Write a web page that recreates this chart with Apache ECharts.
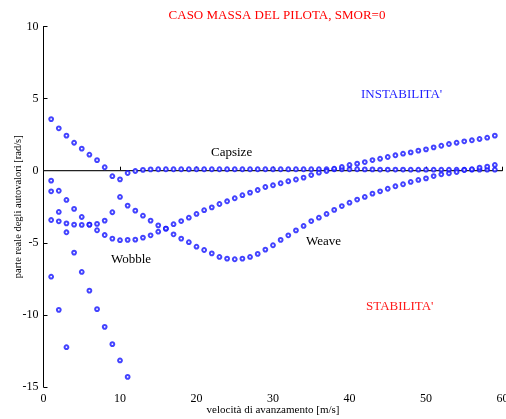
<!DOCTYPE html>
<html><head><meta charset="utf-8">
<script src="https://cdn.jsdelivr.net/npm/echarts@6/dist/echarts.min.js"></script>
<style>html,body{margin:0;padding:0;background:#fff}#c{width:506px;height:419px}</style>
</head><body><div id="c"></div>
<script>
// speed values (m/s)
const speeds = Array.from({length:59},(_,i)=>i+1);
// Capsize branch (starts as real weave root at low speed)
const capsize = [3.58,2.94,2.43,1.94,1.53,1.11,0.73,0.24,-0.38,-0.6,-0.16,-0.02,0.06,0.09,0.1,0.1,0.1,0.1,0.1,0.1,
0.1,0.1,0.1,0.1,0.1,0.1,0.1,0.1,0.1,0.1,0.1,0.1,0.1,0.1,0.1,0.1,0.1,0.1,0.1,0.1,
0.1,0.09,0.09,0.08,0.08,0.08,0.08,0.07,0.07,0.07,0.07,0.07,0.07,0.07,0.07,0.07,0.07,0.07,0.07];
// Wobble branch
const wobble = [-0.69,-1.39,-2.03,-2.65,-3.21,-3.74,-4.13,-4.46,-4.71,-4.82,-4.8,-4.78,-4.64,-4.48,-4.23,-4.02,-3.71,-3.49,-3.26,-3.0,
-2.74,-2.54,-2.31,-2.12,-1.91,-1.7,-1.52,-1.34,-1.13,-1.01,-0.87,-0.73,-0.61,-0.48,-0.3,-0.14,-0.02,0.14,0.26,0.4,
0.49,0.6,0.74,0.83,0.95,1.07,1.18,1.27,1.39,1.48,1.62,1.73,1.85,1.94,2.04,2.11,2.2,2.29,2.43];
// Weave branch
const weave = [-3.42,-3.51,-3.65,-3.74,-3.76,-3.74,-3.69,-3.46,-2.88,-1.82,-2.42,-2.77,-3.12,-3.46,-3.79,-4.02,-4.41,-4.71,-4.96,-5.27,
-5.5,-5.73,-5.98,-6.1,-6.14,-6.1,-5.98,-5.77,-5.47,-5.17,-4.8,-4.48,-4.14,-3.83,-3.49,-3.26,-3.0,-2.72,-2.45,-2.22,
-2.0,-1.82,-1.59,-1.43,-1.25,-1.08,-0.94,-0.78,-0.64,-0.53,-0.37,-0.25,-0.18,-0.09,0.05,0.1,0.21,0.28,0.4];
// Fast stable real roots
const realA = [-1.43,-2.86,-4.27,-5.68,-7.02,-8.32,-9.6,-10.83,-12.03,-13.16,-14.3];
const realB = [-7.35,-9.65,-12.24];
const xTicks = [0,10,20,30,40,50,60];
const yTicks = [-15,-10,-5,0,5,10];
const zeroLine = [[0,0],[60,0]];

const pts = arr => arr.map((v,i)=>[speeds[i],v]);
const serif = '"Liberation Serif","DejaVu Serif",serif';
const blue = '#1414ff';
const sc = data => ({type:'scatter',data:pts(data),symbol:'emptyCircle',symbolSize:3.8,
  itemStyle:{color:blue,borderColor:blue,borderWidth:1.1},silent:true,z:3});

const chart = echarts.init(document.getElementById('c'));
chart.setOption({
  animation:false,
  backgroundColor:'#fff',
  title:{text:'CASO MASSA DEL PILOTA, SMOR=0',left:272,top:4,textAlign:'center',
    textStyle:{color:'#ff0000',fontFamily:serif,fontSize:13,fontWeight:'normal'}},
  grid:{left:43.5,right:3.5,top:26.5,bottom:32,containLabel:false,outerBoundsMode:'none'},
  xAxis:{type:'value',min:xTicks[0],max:xTicks[xTicks.length-1],interval:10,
    name:'velocità di avanzamento [m/s]',nameLocation:'middle',nameGap:18,nameMoveOverlap:false,
    nameTextStyle:{fontFamily:serif,fontSize:11,color:'#000'},
    axisLine:{lineStyle:{color:'#000',width:1}},
    axisTick:{inside:true,length:4,lineStyle:{color:'#000'}},
    axisLabel:{fontFamily:serif,fontSize:12,color:'#000',margin:6,
      formatter:v=>xTicks.includes(v)?String(v):''},
    splitLine:{show:false}},
  yAxis:{type:'value',min:yTicks[0],max:yTicks[yTicks.length-1],interval:5,
    name:'parte reale degli autovalori [rad/s]',nameLocation:'middle',nameGap:20,nameMoveOverlap:false,
    nameTextStyle:{fontFamily:serif,fontSize:10.5,color:'#000'},
    axisLine:{onZero:false,lineStyle:{color:'#000',width:1}},
    axisTick:{inside:true,length:4,lineStyle:{color:'#000'}},
    axisLabel:{fontFamily:serif,fontSize:12,color:'#000',margin:5,
      formatter:v=>yTicks.includes(v)?String(v):''},
    splitLine:{show:false}},
  series:[
    {type:'line',data:zeroLine,symbol:'none',lineStyle:{color:'#222',width:1.3},silent:true,z:2},
    sc(capsize),sc(wobble),sc(weave),sc(realA),sc(realB)
  ],
  graphic:[
    {type:'text',left:211,top:146,style:{text:'Capsize',fill:'#000',font:'13px '+serif}},
    {type:'text',left:111,top:253,style:{text:'Wobble',fill:'#000',font:'13px '+serif}},
    {type:'text',left:306,top:235,style:{text:'Weave',fill:'#000',font:'13px '+serif}},
    {type:'text',left:361,top:88,style:{text:"INSTABILITA'",fill:'#1f1fff',font:'13px '+serif}},
    {type:'text',left:366,top:300,style:{text:"STABILITA'",fill:'#ff1a1a',font:'13px '+serif}}
  ]
});
</script></body></html>
